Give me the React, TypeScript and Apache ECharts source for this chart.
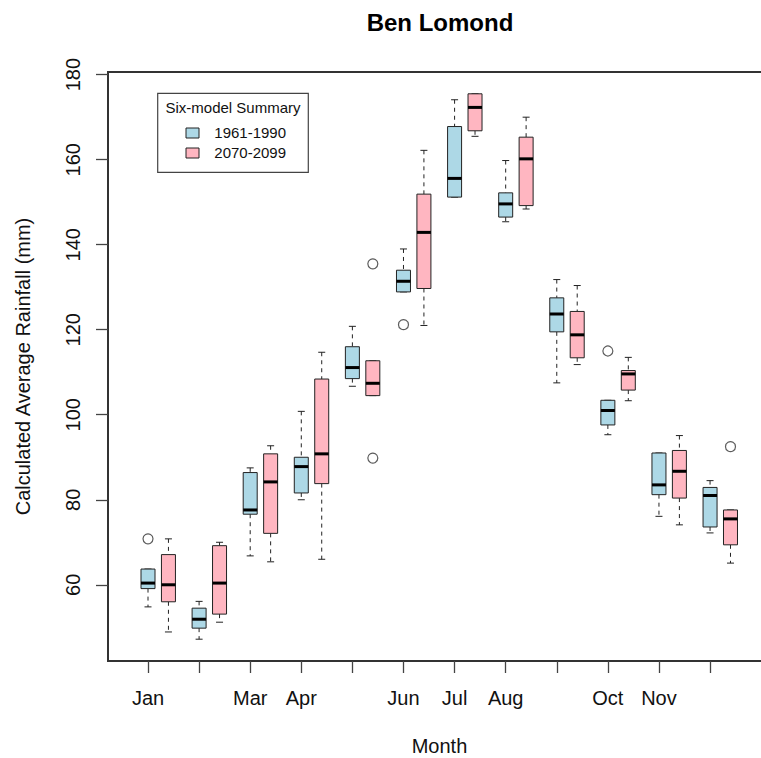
import React, { useEffect, useRef } from "react";
import * as echarts from "echarts";

// ---------------- data ----------------
const MONTHS = ["Jan", "Feb", "Mar", "Apr", "May", "Jun", "Jul", "Aug", "Sep", "Oct", "Nov", "Dec"];
const SHOWN_MONTH_LABELS = ["Jan", "Mar", "Apr", "Jun", "Jul", "Aug", "Oct", "Nov"];
const Y_TICKS = [60, 80, 100, 120, 140, 160, 180];
const PERIODS = ["1961-1990", "2070-2099"];

// [lower whisker, Q1, median, Q3, upper whisker]
const STATS_1961_1990 = [
  [54.8, 59.1, 60.4, 63.7, 63.7],
  [47.2, 49.8, 51.9, 54.5, 56.1],
  [66.8, 76.6, 77.6, 86.4, 87.5],
  [80.0, 81.6, 87.8, 90.0, 100.8],
  [106.7, 108.5, 111.1, 116.0, 120.8],
  [128.9, 128.9, 131.4, 134.0, 139.0],
  [151.2, 151.2, 155.6, 167.8, 174.1],
  [145.4, 146.5, 149.6, 152.2, 159.8],
  [107.5, 119.5, 123.7, 127.5, 131.8],
  [95.3, 97.6, 101.0, 103.4, 103.4],
  [76.1, 81.2, 83.5, 91.0, 91.0],
  [72.2, 73.6, 81.0, 82.9, 84.5],
];
const STATS_2070_2099 = [
  [48.9, 56.0, 60.0, 67.1, 70.8],
  [51.2, 53.1, 60.4, 69.2, 70.0],
  [65.4, 72.1, 84.2, 90.8, 92.7],
  [66.0, 83.8, 90.8, 108.4, 114.7],
  [104.5, 104.5, 107.4, 112.7, 112.7],
  [121.0, 129.7, 142.9, 151.9, 162.2],
  [165.5, 166.8, 172.3, 175.5, 175.5],
  [148.4, 149.2, 160.2, 165.3, 170.0],
  [111.8, 113.4, 118.8, 124.3, 130.4],
  [103.3, 105.8, 109.6, 110.4, 113.5],
  [74.1, 80.4, 86.7, 91.6, 95.1],
  [65.1, 69.4, 75.5, 77.6, 77.6],
];
// [month index, value]
const OUTLIERS_1961_1990 = [
  [0, 70.8],
  [5, 121.2],
  [9, 115.0],
];
const OUTLIERS_2070_2099 = [
  [4, 135.5],
  [4, 89.8],
  [11, 92.5],
];

// ---------------- layout / style ----------------
const PAIR_OFFSET = 0.4;
const X_MIN = -0.783;
const X_MAX = 12.183;
const Y_MIN = 42.07;
const Y_MAX = 180.63;
const FONT = "'Liberation Sans', Arial, Helvetica, sans-serif";
const COLORS = ["#ADD8E6", "#FFB6C1"];
const BOX_HALF = 7;
const CAP_HALF = 3.5;
const CANVAS_W = 800;
const CANVAS_H = 758;
const PLOT_RIGHT_PX = 770.5;

function makeRenderer(fill: string) {
  return (params: any, api: any) => {
    const x = api.value(0);
    const lo = api.value(1);
    const q1 = api.value(2);
    const med = api.value(3);
    const q3 = api.value(4);
    const hi = api.value(5);
    const cx = api.coord([x, med])[0];
    const y = (v: number) => api.coord([x, v])[1];
    const ls = { stroke: "#222", lineWidth: 1 };
    return {
      type: "group",
      children: [
        { type: "line", shape: { x1: cx, y1: y(hi), x2: cx, y2: y(q3) }, style: { ...ls, lineDash: [4, 4] } },
        { type: "line", shape: { x1: cx, y1: y(q1), x2: cx, y2: y(lo) }, style: { ...ls, lineDash: [4, 4] } },
        { type: "line", shape: { x1: cx - CAP_HALF, y1: y(hi), x2: cx + CAP_HALF, y2: y(hi) }, style: ls },
        { type: "line", shape: { x1: cx - CAP_HALF, y1: y(lo), x2: cx + CAP_HALF, y2: y(lo) }, style: ls },
        {
          type: "rect",
          shape: { x: cx - BOX_HALF, y: y(q3), width: BOX_HALF * 2, height: y(q1) - y(q3) },
          style: { fill, stroke: "#222", lineWidth: 1 },
        },
        {
          type: "line",
          shape: { x1: cx - BOX_HALF, y1: y(med), x2: cx + BOX_HALF, y2: y(med) },
          style: { stroke: "#000", lineWidth: 3 },
        },
      ],
    };
  };
}

export default function App() {
  const ref = useRef<HTMLDivElement>(null);

  useEffect(() => {
    if (!ref.current) return;
    document.body.style.overflow = "hidden";
    const chart = echarts.init(ref.current, null, { renderer: "svg" });

    const statsSets = [STATS_1961_1990, STATS_2070_2099];
    const outlierSets = [OUTLIERS_1961_1990, OUTLIERS_2070_2099];

    const boxSeries = statsSets.map((stats, k) => ({
      type: "custom",
      name: PERIODS[k],
      renderItem: makeRenderer(COLORS[k]),
      encode: { x: 0, y: [1, 2, 3, 4, 5] },
      data: stats.map((s, i) => [i + k * PAIR_OFFSET, ...s]),
      z: 2,
    }));
    const outlierSeries = outlierSets.map((outs, k) => ({
      type: "scatter",
      name: PERIODS[k] + " outliers",
      symbol: "circle",
      symbolSize: 10,
      itemStyle: { color: "rgba(0,0,0,0)", borderColor: "#333", borderWidth: 1.2 },
      data: outs.map(([m, v]) => [m + k * PAIR_OFFSET, v]),
      z: 3,
    }));

    const legendX = 157.7;
    const legendY = 93.3;

    chart.setOption({
      animation: false,
      backgroundColor: "#ffffff",
      grid: {
        left: 108,
        top: 72,
        right: CANVAS_W - PLOT_RIGHT_PX,
        bottom: CANVAS_H - 661,
        show: true,
        borderColor: "#333",
        borderWidth: 2,
        backgroundColor: "rgba(0,0,0,0)",
      },
      xAxis: {
        type: "value",
        min: X_MIN,
        max: X_MAX,
        splitLine: { show: false },
        axisLine: { show: false, onZero: false },
        axisTick: {
          show: true,
          customValues: MONTHS.map((_, i) => i),
          length: 12,
          lineStyle: { color: "#444", width: 1.3 },
        },
        axisLabel: {
          customValues: SHOWN_MONTH_LABELS.map((m) => MONTHS.indexOf(m)),
          formatter: (v: number) => MONTHS[Math.round(v)] ?? "",
          margin: 27,
          fontSize: 20,
          color: "#111",
          fontFamily: FONT,
        },
      },
      yAxis: {
        type: "value",
        min: Y_MIN,
        max: Y_MAX,
        splitLine: { show: false },
        axisLine: { show: false, onZero: false },
        axisTick: {
          show: true,
          customValues: Y_TICKS,
          length: 12,
          lineStyle: { color: "#444", width: 1.3 },
        },
        axisLabel: {
          customValues: Y_TICKS,
          rotate: 90,
          margin: 25,
          fontSize: 20,
          color: "#111",
          fontFamily: FONT,
        },
      },
      series: [...boxSeries, ...outlierSeries],
      graphic: [
        {
          type: "text",
          x: 440,
          y: 22,
          style: {
            text: "Ben Lomond",
            font: `bold 24px ${FONT}`,
            fill: "#000",
            align: "center",
            verticalAlign: "middle",
          },
        },
        {
          type: "text",
          x: 439.5,
          y: 745.5,
          style: {
            text: "Month",
            font: `20px ${FONT}`,
            fill: "#111",
            align: "center",
            verticalAlign: "middle",
          },
        },
        {
          type: "text",
          x: 23,
          y: 366.5,
          rotation: Math.PI / 2,
          style: {
            text: "Calculated Average Rainfall (mm)",
            font: `20px ${FONT}`,
            fill: "#111",
            align: "center",
            verticalAlign: "middle",
          },
        },
        {
          type: "rect",
          shape: { x: legendX, y: legendY, width: 150.6, height: 79 },
          style: { fill: "#fff", stroke: "#444", lineWidth: 1.2 },
          z: 10,
        },
        {
          type: "text",
          x: legendX + 75.3,
          y: legendY + 14.4,
          z: 11,
          style: {
            text: "Six-model Summary",
            font: `15px ${FONT}`,
            fill: "#111",
            align: "center",
            verticalAlign: "middle",
          },
        },
        ...PERIODS.flatMap((p, k) => [
          {
            type: "rect",
            z: 11,
            shape: { x: 186, y: 128 + k * 20, width: 13, height: 10 },
            style: { fill: COLORS[k], stroke: "#222", lineWidth: 1 },
          },
          {
            type: "text",
            z: 11,
            x: 214.3,
            y: 132.9 + k * 20,
            style: {
              text: p,
              font: `15px ${FONT}`,
              fill: "#111",
              align: "left",
              verticalAlign: "middle",
            },
          },
        ]),
      ],
    });

    return () => chart.dispose();
  }, []);

  return (
    <div
      ref={ref}
      style={{ position: "fixed", left: 0, top: 0, width: CANVAS_W, height: CANVAS_H, background: "#fff" }}
    />
  );
}
